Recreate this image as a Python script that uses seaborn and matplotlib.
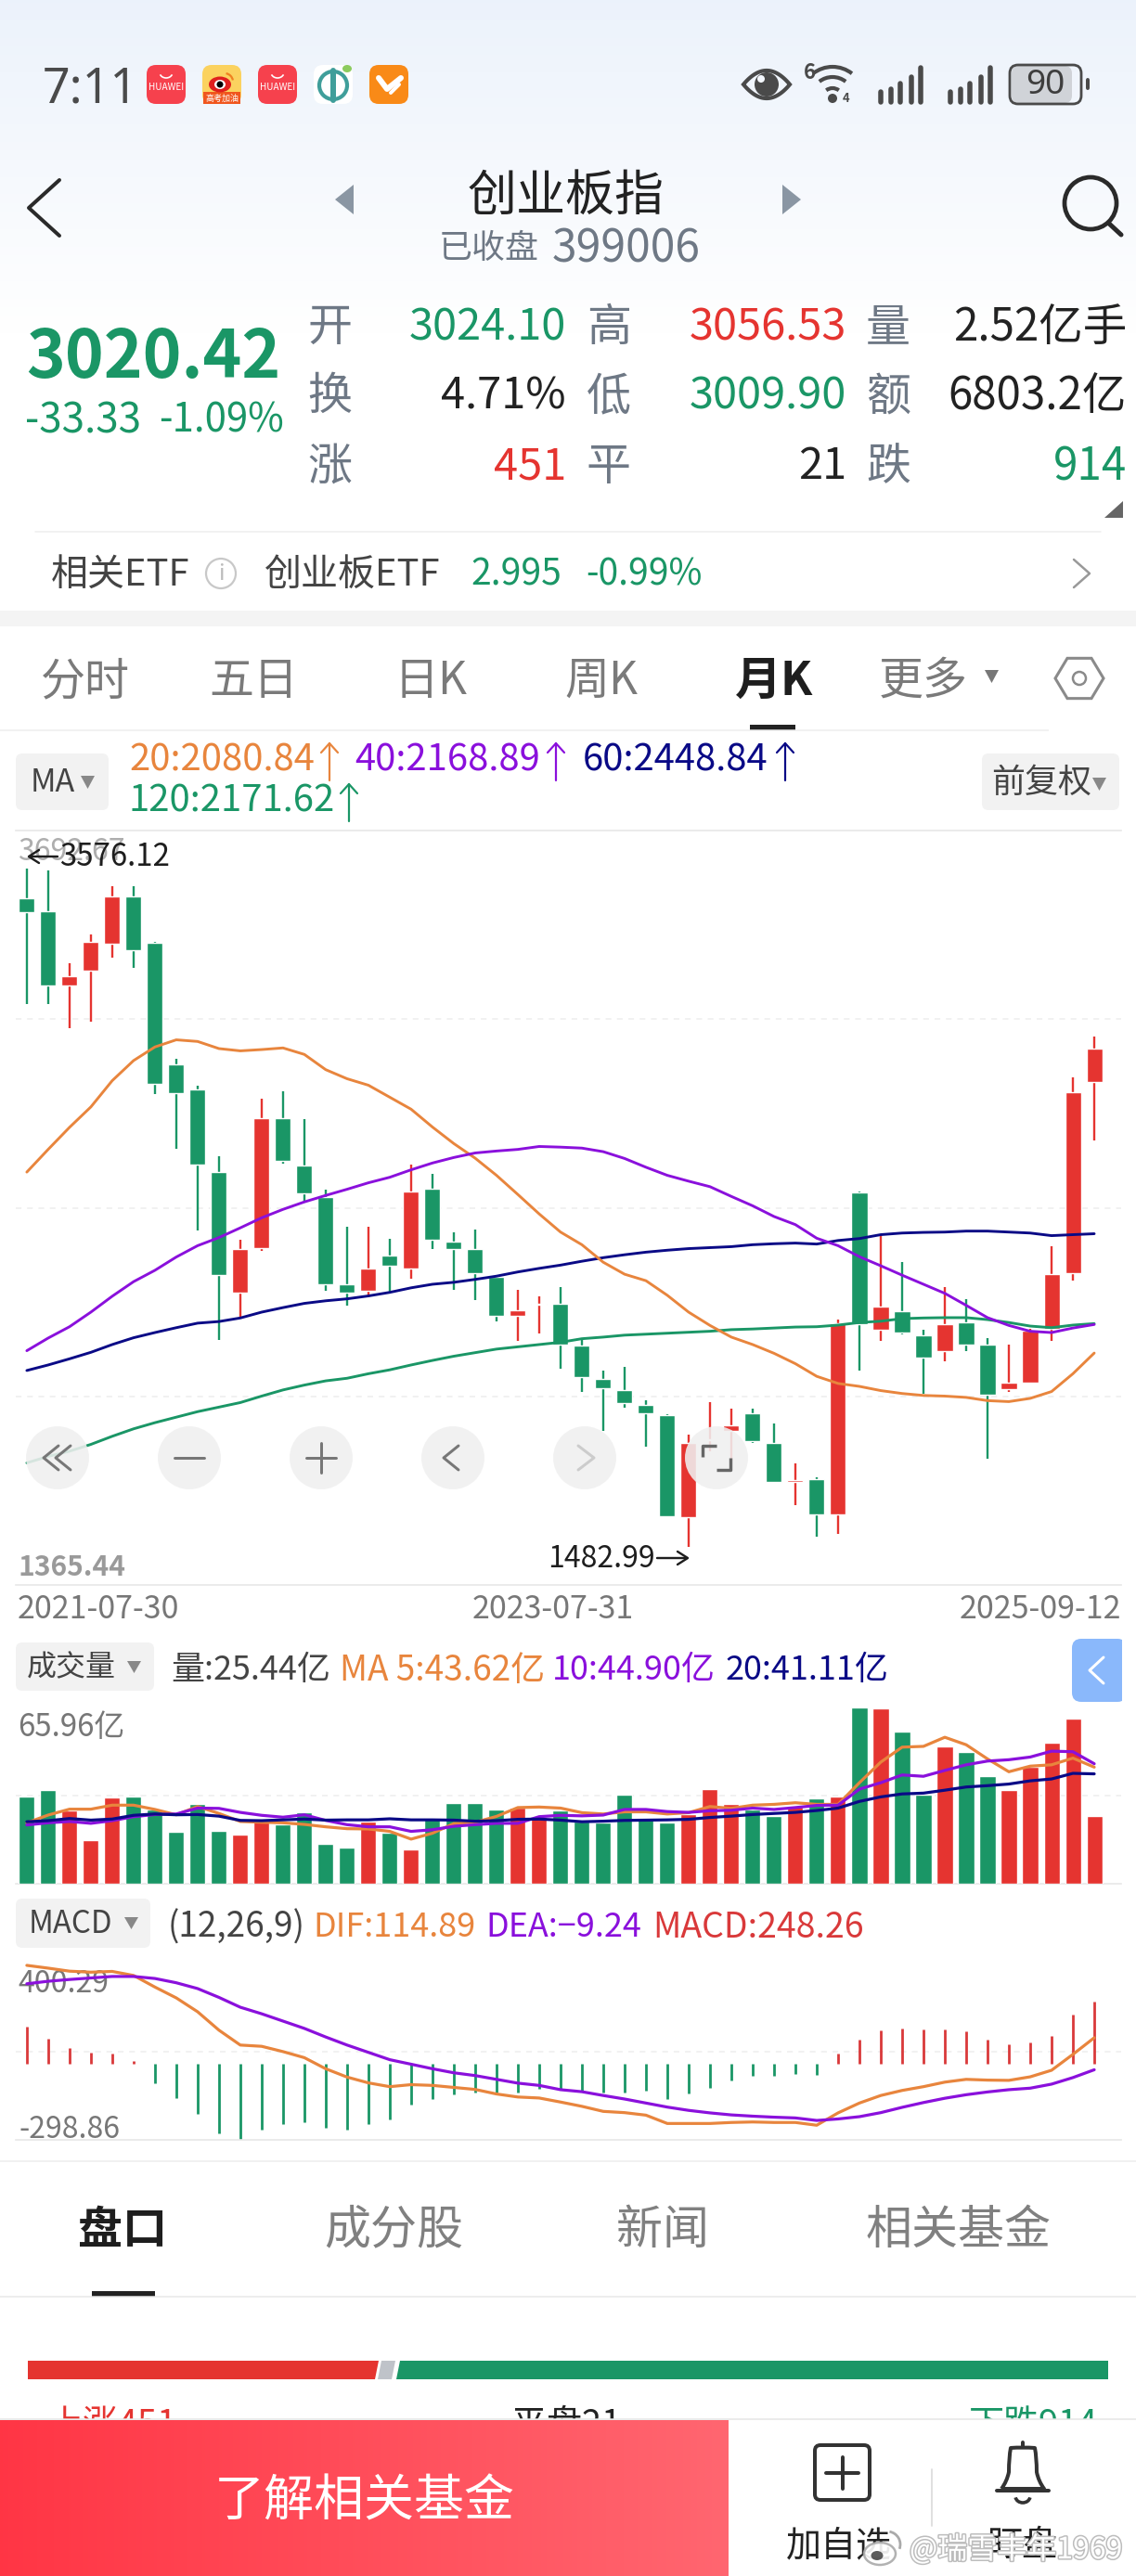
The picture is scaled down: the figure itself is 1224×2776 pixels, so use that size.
import numpy as np
import pandas as pd
import matplotlib
matplotlib.use("Agg")
import matplotlib.pyplot as plt
from matplotlib.patches import FancyBboxPatch, Circle, Polygon, Rectangle, Arc, PathPatch, Ellipse
from matplotlib.path import Path
import matplotlib.patheffects as pe
import seaborn as sns

# ---------- data (monthly index K-line) ----------
open_ = [3483,3445,3214,3261,3343,3489,3345,2971,2893,2640,2268,2404,2806,2660,2561,2294,2273,2383,2342,2589,
         2426,2403,2316,2197,2229,2234,2105,2000,1968,1922,1888,1573,1812,1840,1896,1804,1684,1691,1582,2575,
         2153,2211,2136,2086,2175,2108,1970,1990,2156,2327,2916]
close = [3441,3214,3242,3348,3490,3323,2912,2882,2662,2322,2403,2806,2673,2574,2293,2268,2342,2350,2578,2431,
         2401,2327,2197,2214,2234,2108,2007,1973,1927,1896,1576,1804,1816,1857,1810,1684,1688,1584,2172,2169,
         2223,2144,2068,2169,2107,1953,1990,2150,2325,2885,3020.42]
high =  [3576.12,3570,3283,3371,3521,3520,3348,2989,2906,2687,2429,2864,2887,2803,2586,2471,2471,2432,2662,2633,
         2453,2463,2316,2277,2256,2283,2122,2026,2037,1936,1891,1830,1928,1908,1908,1863,1739,1697,2183,2578,
         2448,2361,2153,2285,2246,2128,2107,2156,2409,2932,3056.53]
low =   [3157,3158,3082,3104,3300,3270,2881,2710,2459,2121,2192,2395,2664,2547,2274,2226,2254,2269,2311,2403,
         2277,2243,2179,2117,2142,2032,1962,1840,1911,1792,1573,1482.99,1778,1750,1802,1680,1613,1514,1522,2026,
         2117,2139,1955,2054,2086,1756,1962,1986,2117,2304,2738]
ma20 =  [2639,2709,2777,2840,2921,2983,3025,3047,3042,3020,3013,3017,3022,3002,2955,2927,2907,2870,2833,2778,
         2727,2682,2629,2570,2510,2454,2415,2361,2324,2304,2259,2207,2166,2130,2107,2080,2048,2009,1987,1978,
         1965,1956,1950,1948,1944,1934,1931,1941,1962,2017,2080.84]
ma40 =  [2088,2127,2162,2207,2256,2301,2336,2377,2412,2437,2467,2498,2524,2547,2567,2586,2606,2623,2646,2667,
         2684,2698,2704,2709,2718,2716,2713,2702,2681,2654,2629,2611,2594,2564,2535,2502,2477,2435,2412,2378,
         2350,2321,2293,2265,2228,2190,2166,2148,2144,2158,2168.89]
ma60 =  [2027,2044,2063,2083,2107,2128,2144,2159,2173,2178,2189,2207,2221,2234,2242,2248,2257,2268,2282,2293,
         2299,2308,2318,2331,2342,2352,2364,2375,2384,2392,2398,2403,2406,2409,2415,2418,2420,2417,2428,2434,
         2446,2451,2453,2454,2457,2457,2454,2451,2443,2446,2448.84]
ma120 = [1742,1762,1778,1799,1824,1847,1866,1883,1900,1914,1928,1948,1967,1982,1995,2003,2017,2029,2044,2058,
         2071,2082,2093,2100,2107,2114,2125,2130,2136,2139,2142,2145,2148,2153,2155,2158,2161,2162,2167,2175,
         2179,2187,2189,2190,2190,2184,2175,2164,2159,2167,2171.62]
volume = [32.8,35.2,27.3,16.4,32.4,32.8,27.9,19.6,30.0,19.9,18.5,23.2,22.3,26.6,15.0,13.6,23.3,19.2,12.9,24.8,
          30.3,30.3,27.9,28.3,25.1,27.3,23.4,23.0,33.5,24.8,23.0,26.1,35.5,30.0,27.9,25.4,28.9,31.8,32.6,65.96,
          65.6,56.9,33.5,51.4,49.4,40.1,34.9,43.8,52.6,61.9,25.44]
vol_ma5 = [22.8,25.7,27.9,27.9,29.4,29.4,27.8,25.8,28.9,26.3,23.3,23.0,22.8,22.2,21.3,20.6,20.5,19.6,16.7,18.9,
           22.5,23.0,25.2,28.5,28.7,28.3,26.6,26.1,26.9,26.9,26.1,26.6,28.9,28.2,29.4,29.7,30.3,29.7,29.7,37.8,
           45.5,51.1,51.4,54.8,52.0,46.7,41.9,44.0,44.5,47.0,43.62]
vol_ma10 = [22.0,22.8,23.3,22.6,23.6,25.1,25.9,26.1,28.3,28.2,26.7,25.6,24.9,25.8,23.7,22.1,21.3,21.3,19.6,20.2,
            21.5,22.1,22.6,22.6,25.1,25.6,25.4,25.7,27.8,27.8,27.0,26.7,27.3,27.5,28.3,27.8,28.5,29.3,29.4,35.4,
            37.8,40.7,40.2,42.4,44.5,45.9,46.4,47.4,49.6,49.4,44.90]
vol_ma20 = [23.2,23.6,24.4,23.8,24.2,25.6,26.1,25.8,25.9,25.3,23.7,23.6,23.9,24.2,23.8,23.9,23.9,24.3,23.9,23.9,
            23.8,23.4,23.6,24.1,24.2,23.8,23.2,23.4,23.7,23.8,23.9,24.1,24.8,25.3,25.9,26.3,26.7,27.4,28.3,30.8,
            32.5,33.6,33.9,35.0,36.2,36.7,37.3,38.5,39.2,41.3,41.11]
dif = [392,381,369,365,368,352,306,263,208,135,76,71,50,26,-18,-51,-74,-89,-81,-84,
       -92,-100,-118,-130,-134,-150,-167,-187,-192,-202,-235,-235,-235,-231,-229,-231,-231,-242,-193,-154,
       -124,-104,-89,-71,-60,-63,-64,-50,-24,39,105]
dea = [319,329,336,342,348,348,340,323,300,265,226,200,171,142,108,76,47,18,0,-18,
       -34,-45,-60,-75,-84,-101,-109,-124,-138,-154,-170,-183,-193,-201,-206,-210,-213,-223,-217,-208,
       -192,-171,-152,-135,-121,-110,-101,-95,-79,-53,-22]
macd_hist = [150,102,66,47,43,14,-75,-134,-197,-276,-298.86,-259,-239,-230,-252,-259,-239,-218,-160,-138,
             -121,-113,-113,-112,-97,-102,-108,-113,-113,-105,-138,-116,-93,-64,-47,-47,-39,-43,43,96,
             135,143,137,139,129,99,80,88,114,198,248.26]
date_labels = ["2021-07-30", "2023-07-31", "2025-09-12"]

W, H = 1224, 2776
RED, GREEN = "#E53430", "#1A9666"
ORANGE, PURPLE, NAVY, TEAL = "#E8853D", "#8A10DC", "#0A0A86", "#1A9666"
GRAY = "#6E7885"
CJK = ["Noto Sans CJK SC", "DejaVu Sans"]

sns.set_theme(style="white")
plt.rcParams["font.family"] = CJK
plt.rcParams["axes.unicode_minus"] = False

fig = plt.figure(figsize=(W / 100, H / 100), dpi=100, facecolor="white")


def px_axes(z):
    a = fig.add_axes([0, 0, 1, 1], zorder=z, facecolor="none")
    a.set_axis_off()
    return a


def fix(a):
    a.set_xlim(0, W)
    a.set_ylim(H, 0)


def T(a, x, y, s, em, color="#222222", ha="center", va="center", weight="normal", **kw):
    return a.text(x, y + em * 0.09, s, fontsize=em * 0.72, color=color, ha=ha, va=va, weight=weight,
                  family=kw.pop("family", CJK), **kw)


def L(a, xs, ys, color="#222222", lw=3, zorder=5, cap="round", **kw):
    a.plot(xs, ys, color=color, lw=lw * 0.72, solid_capstyle=cap, solid_joinstyle="round", zorder=zorder, **kw)


def RB(a, x0, y0, x1, y1, r, fc, ec="none", lw=0, zorder=3, **kw):
    a.add_patch(FancyBboxPatch((x0, y0), x1 - x0, y1 - y0, boxstyle=f"round,pad=0,rounding_size={r}",
                               fc=fc, ec=ec, lw=lw * 0.72, zorder=zorder, **kw))


bg = px_axes(0)
grad = np.linspace(0, 1, 256)[:, None, None] * (np.array([1, 1, 1.0]) - np.array([0.925, 0.95, 0.985])) + np.array([0.925, 0.95, 0.985])
bg.imshow(grad, extent=(0, W, 360, 0), aspect="auto", zorder=0)
bg.add_patch(Rectangle((0, 658), W, 17, fc="#F4F4F4", ec="none", zorder=1))

# ---------- status bar ----------
T(bg, 46, 92, "7:11", 52, "#4A4A4A", ha="left", family=["Noto Sans", "DejaVu Sans"])
for x0 in (158, 278):
    RB(bg, x0, 70, x0 + 42, 112, 10, "#F6414D")
    bg.add_patch(Arc((x0 + 21, 78), 14, 12, theta1=20, theta2=160, color="white", lw=1.2, zorder=4))
    T(bg, x0 + 21, 93, "HUAWEI", 10, "white", zorder=4)
RB(bg, 218, 70, 260, 112, 10, "#FBD25F")
bg.add_patch(Rectangle((219, 99), 40, 13, fc="#F0561E", ec="none", zorder=4))
T(bg, 239, 105, "高考加油", 9, "white", zorder=5)
bg.add_patch(Ellipse((237, 91), 24, 17, fc="#E0201E", ec="none", zorder=4))
bg.add_patch(Ellipse((237, 91), 12, 10, fc="white", ec="none", zorder=5))
bg.add_patch(Circle((237, 91), 3.5, fc="black", ec="none", zorder=6))
bg.add_patch(Arc((242, 88), 18, 18, theta1=280, theta2=350, color="#F08020", lw=1.6, zorder=4))
RB(bg, 338, 70, 380, 112, 10, "white")
bg.add_patch(Circle((359, 92), 15, fc="none", ec="#3F9E9A", lw=3, zorder=4))
L(bg, [359, 359], [76, 108], "#3F9E9A", 6)
bg.add_patch(Ellipse((374, 74), 10, 8, fc="#8CCB5E", ec="none", zorder=5))
RB(bg, 398, 70, 440, 112, 10, "#F98A17")
L(bg, [408, 417, 432], [84, 96, 84], "white", 6)
L(bg, [421, 430], [100, 91], "white", 4)

eye_t = np.linspace(-1, 1, 40)
bg.add_patch(Polygon(np.r_[np.c_[826 + 25 * eye_t, 91 - 15 * (1 - eye_t ** 2)],
                           np.c_[826 - 25 * eye_t, 91 + 15 * (1 - eye_t ** 2)]],
                     closed=True, fc="none", ec="#4A4A4A", lw=3, zorder=4))
bg.add_patch(Circle((826, 91), 13, fc="#4A4A4A", ec="none", zorder=5))
bg.add_patch(Circle((820, 85), 4, fc="#F4F7FD", ec="none", zorder=6))
T(bg, 872, 77, "6", 22, "#4A4A4A", weight="bold")
bg.add_patch(Circle((897, 106), 5, fc="#4A4A4A", ec="none", zorder=5))
for r in (11, 23, 34):
    bg.add_patch(Arc((897, 106), 2 * r, 2 * r, theta1=232, theta2=308, color="#4A4A4A", lw=3, zorder=5))
T(bg, 912, 105, "4", 13, "#4A4A4A", weight="bold")
for dx in (0, 75):
    for x, top_y in zip((949, 960, 970, 982, 992), (99, 96, 90, 83, 73)):
        L(bg, [x + dx, x + dx], [top_y, 110], "#4A4A4A", 5.5)
RB(bg, 1090, 71, 1155, 111, 8, "#D0D3D8", zorder=3)
RB(bg, 1088, 70, 1165, 112, 9, "none", ec="#4A4A4A", lw=2.8, zorder=4)
L(bg, [1171.5, 1171.5], [86, 95], "#4A4A4A", 4)
T(bg, 1126, 89, "90", 37, "#3E3E3E", zorder=5, family=["Noto Sans", "DejaVu Sans"])

# ---------- title bar ----------
L(bg, [64, 31, 64], [194, 224, 254], "#2A2A2A", 4)
bg.add_patch(Polygon([(381, 199), (381, 231), (361, 215)], fc="#8A96A3", ec="none", zorder=3))
bg.add_patch(Polygon([(843, 199), (843, 231), (863, 215)], fc="#8A96A3", ec="none", zorder=3))
T(bg, 610, 207, "创业板指", 53, "#222222")
T(bg, 581, 265, "已收盘", 36, GRAY, ha="right")
T(bg, 595, 264, "399006", 48, GRAY, ha="left")
bg.add_patch(Circle((1175, 219), 28, fc="none", ec="#2A2A2A", lw=3.4, zorder=4))
L(bg, [1194, 1208], [240, 253], "#2A2A2A", 5)

# ---------- quote block ----------
T(bg, 28, 380, "3020.42", 71, GREEN, ha="left", weight="bold")
T(bg, 27, 450, "-33.33", 44, GREEN, ha="left")
T(bg, 306, 450, "-1.09%", 42, GREEN, ha="right")
rows = [349, 423, 499]
for y, a_, b_, c_, v1, c1, v2, c2, v3, c3 in [
    (rows[0], "开", "高", "量", "3024.10", GREEN, "3056.53", RED, "2.52亿手", "#222222"),
    (rows[1], "换", "低", "额", "4.71%", "#222222", "3009.90", GREEN, "6803.2亿", "#222222"),
    (rows[2], "涨", "平", "跌", "451", RED, "21", "#222222", "914", GREEN),
]:
    T(bg, 355, y, a_, 48, GRAY)
    T(bg, 656, y, b_, 48, GRAY)
    T(bg, 957, y, c_, 48, GRAY)
    T(bg, 610, y, v1, 47, c1, ha="right")
    T(bg, 912, y, v2, 47, c2, ha="right")
    T(bg, 1214, y, v3, 47.5, c3, ha="right")
bg.add_patch(Polygon([(1210, 540), (1210, 558), (1190, 558)], fc="#666666", ec="none", zorder=3))
L(bg, [38, 1186], [573, 573], "#EDEDED", 1.5)
T(bg, 55, 616, "相关ETF", 40, "#444444", ha="left")
bg.add_patch(Circle((238, 618), 16, fc="none", ec="#C8C8C8", lw=1.6, zorder=4))
T(bg, 238, 616, "i", 24, "#BBBBBB")
T(bg, 285, 616, "创业板ETF", 40, "#444444", ha="left")
T(bg, 507, 616, "2.995", 39, GREEN, ha="left")
T(bg, 631, 616, "-0.99%", 39, GREEN, ha="left")
L(bg, [1157, 1174, 1157], [603, 618, 633], "#999999", 2.5)

# ---------- period tabs ----------
for x, s in zip((92, 273, 464, 648, 995), ("分时", "五日", "日K", "周K", "更多")):
    T(bg, x, 730, s, 48, "#7A7A7A")
T(bg, 834, 730, "月K", 50, "#1E1E1E", weight="bold")
bg.add_patch(Polygon([(1061, 722), (1076, 722), (1068.5, 736)], fc="#777777", ec="none", zorder=3))
hex_t = np.deg2rad(np.arange(0, 360, 60))
bg.add_patch(Polygon(np.c_[1163 + 26 * np.cos(hex_t), 731 + 25 * np.sin(hex_t)], closed=True, fc="none",
                     ec="#8A8A8A", lw=2.2, zorder=4))
bg.add_patch(Circle((1163, 731), 7, fc="none", ec="#8A8A8A", lw=1.8, zorder=4))
bg.add_patch(Rectangle((808, 781), 49, 6, fc="#222222", ec="none", zorder=4))
L(bg, [0, 1130], [787, 787], "#EDEDED", 1.5, cap="butt")

# ---------- MA legend ----------
RB(bg, 17, 812, 117, 873, 7, "#F2F2F2")
T(bg, 57, 840, "MA", 34, "#444444")
bg.add_patch(Polygon([(87, 836), (102, 836), (94.5, 850)], fc="#888888", ec="none", zorder=4))
RB(bg, 1058, 812, 1206, 873, 7, "#F2F2F2")
T(bg, 1122, 841, "前复权", 36, "#444444")
bg.add_patch(Polygon([(1177, 838), (1192, 838), (1184.5, 852)], fc="#888888", ec="none", zorder=4))
T(bg, 139, 816, "20:2080.84", 40, ORANGE, ha="left")
T(bg, 382, 816, "40:2168.89", 40, PURPLE, ha="left")
T(bg, 628, 816, "60:2448.84", 40, NAVY, ha="left")
T(bg, 139, 860, "120:2171.62", 40, TEAL, ha="left")
for x, y, c in ((355, 821, ORANGE), (599, 821, PURPLE), (846, 821, NAVY), (376, 865, TEAL)):
    L(bg, [x, x], [y - 20, y + 20], c, 2.2)
    L(bg, [x - 9, x, x + 9], [y - 10, y - 20, y - 10], c, 2.2)

# ---------- chart axes ----------
XL, XR = 17, 1208
X_LIM = (-0.517, 51.26)


def chart_axes(top_px, bottom_px):
    a = fig.add_axes([XL / W, 1 - bottom_px / H, (XR - XL) / W, (bottom_px - top_px) / H], zorder=1, facecolor="none")
    for s in ("left", "right"):
        a.spines[s].set_visible(False)
    for s in ("top", "bottom"):
        a.spines[s].set_color("#E8E8E8")
        a.spines[s].set_linewidth(1.2)
    a.tick_params(left=False, bottom=False, labelleft=False, labelbottom=False)
    return a


months = np.arange(len(close))
frame = pd.DataFrame(dict(month=months, open=open_, close=close, high=high, low=low, ma20=ma20, ma40=ma40,
                          ma60=ma60, ma120=ma120, volume=volume, vol_ma5=vol_ma5, vol_ma10=vol_ma10,
                          vol_ma20=vol_ma20, dif=dif, dea=dea, macd=macd_hist))
frame["up"] = frame["close"] >= frame["open"]
colors = np.where(frame["up"], RED, GREEN)

# price
ax_p = chart_axes(895, 1708)
ax_p.set_ylim(1365.44, 3692.67)
ax_p.vlines(frame["month"], frame["low"], frame["high"], colors=colors, lw=1.7, zorder=2)
ax_p.bar(frame["month"], (frame["close"] - frame["open"]).abs(), bottom=frame[["open", "close"]].min(axis=1),
         width=0.74, color=colors, zorder=3)
for col, c in (("ma120", TEAL), ("ma60", NAVY), ("ma20", ORANGE), ("ma40", PURPLE)):
    sns.lineplot(data=frame, x="month", y=col, color=c, lw=2.1, ax=ax_p, zorder=4, errorbar=None)
step = (3692.67 - 1365.44) / 4
ax_p.set_yticks([1365.44 + step * k for k in (1, 2, 3)])
ax_p.grid(axis="y", color="#EDEDED", lw=1.1, ls=(0, (4, 4)))
ax_p.set_axisbelow(True)

# volume
ax_v = chart_axes(1840, 2030)
ax_v.spines["top"].set_visible(False)
sns.barplot(data=frame, x="month", y="volume", hue="up", palette={True: RED, False: GREEN}, native_scale=True,
            dodge=False, width=0.74, legend=False, saturation=1, ax=ax_v, zorder=3)
for col, c in (("vol_ma5", ORANGE), ("vol_ma10", PURPLE), ("vol_ma20", NAVY)):
    sns.lineplot(data=frame, x="month", y=col, color=c, lw=2.3, ax=ax_v, zorder=4, errorbar=None)
ax_v.set_ylim(0, 65.96)
ax_v.set_yticks([32.98])
ax_v.grid(axis="y", color="#EDEDED", lw=1.1, ls=(0, (4, 4)))
ax_v.set_axisbelow(True)

# MACD
ax_m = chart_axes(2115.7, 2305.7)
ax_m.spines["top"].set_visible(False)
ax_m.set_ylim(-298.86, 400.29)
ax_m.vlines(frame["month"], 0, frame["macd"], colors=np.where(frame["macd"] >= 0, "#D9393A", GREEN), lw=2.0, zorder=2)
for col, c in (("dif", ORANGE), ("dea", PURPLE)):
    sns.lineplot(data=frame, x="month", y=col, color=c, lw=2.3, ax=ax_m, zorder=4, errorbar=None)
ax_m.set_yticks([(400.29 - 298.86) / 2])
ax_m.grid(axis="y", color="#EDEDED", lw=1.1, ls=(0, (4, 4)))
ax_m.set_axisbelow(True)

for a in (ax_p, ax_v, ax_m):
    a.set_xlim(*X_LIM)
    a.set_xlabel("")
    a.set_ylabel("")

# chart labels
T(bg, 19, 915, "3692.67", 32, "#AEAEAE", ha="left", zorder=3)
T(bg, 124, 921, "3576.12", 33, "#1E1E1E", ha="center", zorder=3)
L(bg, [32, 62], [923, 923], "#1E1E1E", 2.4)
L(bg, [42, 31, 42], [916, 923, 930], "#1E1E1E", 2.4)
T(bg, 20, 1686, "1365.44", 30, "#9A9A9A", ha="left", weight="bold")
T(bg, 590, 1677, "1482.99", 32, "#1E1E1E", ha="left")
L(bg, [708, 740], [1679, 1679], "#1E1E1E", 2.4)
L(bg, [730, 741, 730], [1672, 1679, 1686], "#1E1E1E", 2.4)
T(bg, 19, 1731, date_labels[0], 34, "#777777", ha="left")
T(bg, 596, 1731, date_labels[1], 34, "#777777")
T(bg, 1208, 1731, date_labels[2], 34, "#777777", ha="right")

# volume legend
RB(bg, 17, 1770, 166, 1822, 7, "#F2F2F2")
T(bg, 77, 1794, "成交量", 32, "#444444")
bg.add_patch(Polygon([(137, 1790), (152, 1790), (144.5, 1803)], fc="#888888", ec="none", zorder=4))
T(bg, 184, 1797, "量:25.44亿", 36, "#444444", ha="left")
T(bg, 366, 1797, "MA 5:43.62亿", 37, ORANGE, ha="left")
T(bg, 595, 1797, "10:44.90亿", 36, PURPLE, ha="left")
T(bg, 782, 1797, "20:41.11亿", 36, NAVY, ha="left")
RB(bg, 1155, 1766, 1214, 1834, 10, "#8AB8FB")
bg.add_patch(Rectangle((1209, 1760), 15, 80, fc="white", ec="none", zorder=4))
L(bg, [1189, 1174, 1189], [1786, 1800, 1814], "white", 3, zorder=6)
T(bg, 19, 1859, "65.96亿", 33, "#777777", ha="left")

# MACD legend
RB(bg, 17, 2046, 162, 2099, 7, "#F2F2F2")
T(bg, 76, 2071, "MACD", 33, "#444444")
bg.add_patch(Polygon([(134, 2066), (149, 2066), (141.5, 2079)], fc="#888888", ec="none", zorder=4))
T(bg, 181, 2074, "(12,26,9)", 37, "#444444", ha="left")
T(bg, 337, 2074, "DIF:114.89", 36, ORANGE, ha="left")
T(bg, 523, 2074, "DEA:−9.24", 36, PURPLE, ha="left")
T(bg, 703, 2074, "MACD:248.26", 37.5, "#D9393A", ha="left")
T(bg, 19, 2135, "400.29", 32, "#777777", ha="left", zorder=2)
T(bg, 20, 2292, "-298.86", 32, "#777777", ha="left", zorder=2)

# ---------- lower tabs ----------
L(bg, [0, W], [2329, 2329], "#EDEDED", 1.5, cap="butt")
T(bg, 132, 2399, "盘口", 48, "#1E1E1E", weight="bold")
T(bg, 424, 2399, "成分股", 50, "#808080")
T(bg, 714, 2399, "新闻", 50, "#808080")
T(bg, 1033, 2399, "相关基金", 50, "#808080")
bg.add_patch(Rectangle((99, 2469), 68, 6, fc="#222222", ec="none", zorder=4))
L(bg, [0, W], [2475, 2475], "#E8E8E8", 1.5, cap="butt")
bg.add_patch(Polygon([(30, 2544), (408, 2544), (404, 2564), (30, 2564)], fc=RED, ec="none", zorder=3))
bg.add_patch(Polygon([(411, 2544), (426, 2544), (422, 2564), (407, 2564)], fc="#BFC3C9", ec="none", zorder=3))
bg.add_patch(Polygon([(431, 2544), (1194, 2544), (1194, 2564), (427, 2564)], fc=GREEN, ec="none", zorder=3))
T(bg, 51, 2610, "上涨451", 38, RED, ha="left")
T(bg, 610, 2610, "平盘21", 38, "#222222")
T(bg, 1183, 2610, "下跌914", 38, GREEN, ha="right")

# ---------- overlay: zoom buttons and bottom bar ----------
top = px_axes(2)
for x in (62, 204, 346, 488, 630, 772):
    top.add_patch(Circle((x, 1571), 34, fc="#F0F0F0", ec="none", alpha=0.88, zorder=2))
for x0 in (47, 60):
    L(top, [x0 + 16, x0, x0 + 16], [1558, 1571, 1584], "#777777", 3)
L(top, [188, 220], [1571, 1571], "#777777", 3)
L(top, [330, 362], [1571, 1571], "#777777", 3)
L(top, [346, 346], [1555, 1587], "#777777", 3)
L(top, [494, 478, 494], [1558, 1571, 1584], "#777777", 3)
L(top, [623, 640, 623], [1558, 1571, 1584], "#CCCCCC", 3)
L(top, [757, 757, 772], [1570, 1558, 1558], "#666666", 3.4, cap="butt")
L(top, [787, 787, 772], [1571, 1584, 1584], "#666666", 3.4, cap="butt")

top.add_patch(Rectangle((0, 2607), W, 169, fc="white", ec="none", zorder=2))
L(top, [0, W], [2607, 2607], "#E5E5E5", 1.5, cap="butt", zorder=3)
row = np.linspace(0, 1, 256)[None, :, None] * (np.array([1.0, 0.40, 0.44]) - np.array([1.0, 0.21, 0.27])) + np.array([1.0, 0.21, 0.27])
top.imshow(row, extent=(0, 785, 2776, 2608), aspect="auto", zorder=3)
T(top, 393, 2691, "了解相关基金", 54, "white", zorder=4)
RB(top, 878, 2635, 937, 2694, 6, "none", ec="#333333", lw=4, zorder=4)
L(top, [890, 925], [2665, 2665], "#333333", 4)
L(top, [907.5, 907.5], [2648, 2682], "#333333", 4)
L(top, [1004, 1004], [2661, 2722], "#DDDDDD", 1.8)
bell = Path([(1079, 2682), (1085, 2674), (1087, 2664), (1087, 2648), (1089, 2638), (1102, 2637),
             (1115, 2638), (1117, 2648), (1117, 2664), (1119, 2674), (1125, 2682), (1079, 2682)],
            [Path.MOVETO, Path.CURVE3, Path.CURVE3, Path.CURVE3, Path.CURVE3, Path.CURVE3,
             Path.CURVE3, Path.CURVE3, Path.CURVE3, Path.CURVE3, Path.CURVE3, Path.LINETO])
top.add_patch(PathPatch(bell, fc="none", ec="#333333", lw=2.9, joinstyle="round", zorder=4))
L(top, [1074, 1130], [2684, 2684], "#333333", 4)
top.add_patch(Arc((1102, 2690), 16, 14, theta1=10, theta2=170, color="#333333", lw=2.6, zorder=4))
L(top, [1102, 1102], [2632, 2637], "#333333", 4)
T(top, 904, 2740, "加自选", 38, "#222222", zorder=4)
T(top, 1101, 2740, "盯盘", 38, "#222222", zorder=4)
top.add_patch(Ellipse((948, 2752), 34, 24, fc="white", ec="#AAAAAA", lw=1.8, zorder=5, alpha=0.9))
top.add_patch(Ellipse((945, 2754), 13, 10, fc="#333333", ec="none", zorder=6, alpha=0.8))
top.add_patch(Arc((956, 2742), 28, 28, theta1=280, theta2=20, color="#AAAAAA", lw=2, zorder=6))
T(top, 980, 2745, "@瑞雪丰年1969", 32, "white", ha="left", zorder=6,
  path_effects=[pe.withStroke(linewidth=2.2, foreground="#BDBDBD")])

fix(bg)
fix(top)
fig.savefig("out.png", dpi=100, facecolor="white")
